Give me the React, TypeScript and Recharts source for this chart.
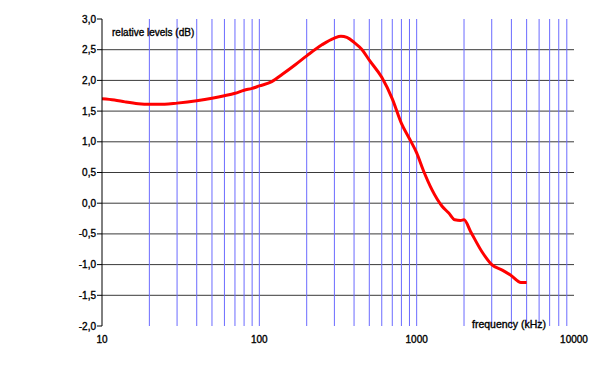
import { LineChart, Line, XAxis, YAxis, ReferenceLine } from 'recharts'

// frequency (kHz) and relative level (dB)
const freqs = [10, 12, 14, 17, 20, 25, 30, 40, 50, 60, 70, 80, 90, 100, 120, 140, 170, 200, 250, 300, 330, 360, 400, 450, 500, 600, 700, 800, 900, 1000, 1100, 1250, 1450, 1600, 1750, 1900, 2000, 2200, 2600, 3000, 3500, 4000, 4600, 5000]
const levels = [1.70, 1.68, 1.65, 1.62, 1.61, 1.61, 1.63, 1.67, 1.71, 1.75, 1.79, 1.84, 1.87, 1.91, 1.98, 2.10, 2.26, 2.40, 2.58, 2.69, 2.72, 2.70, 2.62, 2.50, 2.33, 2.05, 1.70, 1.30, 1.05, 0.82, 0.54, 0.22, -0.05, -0.16, -0.27, -0.28, -0.27, -0.46, -0.79, -1.00, -1.09, -1.18, -1.29, -1.29]

const xTicks = [10, 100, 1000, 10000]
const yTicks = [-2, -1.5, -1, -0.5, 0, 0.5, 1, 1.5, 2, 2.5, 3]
const hGrid = [-1.5, -1, -0.5, 0, 0.5, 1, 1.5, 2, 2.5]
const vGrid = [20, 30, 40, 50, 60, 70, 80, 90, 100, 200, 300, 400, 500, 600, 700, 800, 900, 1000, 2000, 3000, 4000, 5000, 6000, 7000, 8000, 9000]

const data = freqs.map((f, i) => ({ f, level: levels[i] }))

const fmt = (v: number) => v.toFixed(1).replace('.', ',')
const family = 'Arial, "Liberation Sans", sans-serif'
const font = { fontFamily: family, fontSize: 10, fill: '#000', stroke: '#000', strokeWidth: 0.35 }
const caption = { position: 'absolute' as const, fontFamily: family, color: '#000', whiteSpace: 'nowrap' as const, WebkitTextStroke: '0.35px #000' }

export default function App() {
  return (
    <div style={{ position: 'absolute', left: 0, top: 0, width: 600, height: 374, background: '#fff' }}>
      <LineChart width={600} height={374} data={data} margin={{ top: 19, right: 26, bottom: 18, left: 62 }}>
        {hGrid.map(y => (
          <ReferenceLine key={'h' + y} y={y} stroke="#3a3a3a" strokeWidth={1} />
        ))}
        {vGrid.map(x => (
          <ReferenceLine key={'v' + x} x={x} stroke="#6b6bff" strokeWidth={1} />
        ))}
        <XAxis
          dataKey="f"
          type="number"
          scale="log"
          domain={[10, 10000]}
          ticks={xTicks}
          allowDataOverflow
          axisLine={false}
          tickLine={false}
          tickSize={8}
          height={30}
          tick={font}
        />
        <YAxis
          type="number"
          domain={[-2, 3]}
          ticks={yTicks}
          tickFormatter={fmt}
          width={40}
          tickSize={5}
          tickMargin={1}
          axisLine={{ stroke: '#000' }}
          tickLine={{ stroke: '#000' }}
          tick={font}
        />
        <Line
          dataKey="level"
          type="monotone"
          stroke="#ff0000"
          strokeWidth={3}
          dot={false}
          isAnimationActive={false}
        />
      </LineChart>
      <span style={{ ...caption, left: 112, top: 27, fontSize: 10 }}>relative levels (dB)</span>
      <span style={{ ...caption, left: 472, top: 318, fontSize: 10.5 }}>frequency (kHz)</span>
    </div>
  )
}
